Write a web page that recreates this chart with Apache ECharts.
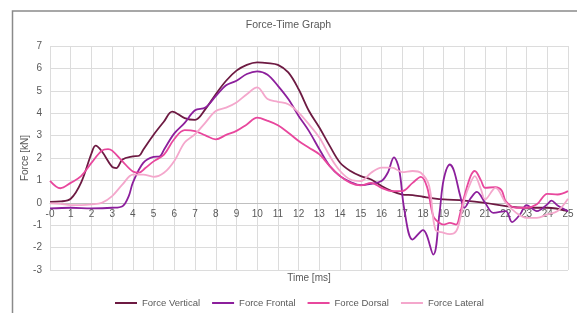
<!DOCTYPE html>
<html>
<head>
<meta charset="utf-8">
<script src="https://cdn.jsdelivr.net/npm/echarts@6/dist/echarts.min.js"></script>
<style>
  html, body { margin: 0; padding: 0; background: #fff; }
  #chart { width: 577px; height: 313px; }
</style>
</head>
<body>
<div id="chart"></div>
<script>
var seriesNames = ['Force Vertical', 'Force Frontal', 'Force Dorsal', 'Force Lateral'];
var colors = ['#6d1a42', '#8c1f9c', '#e8479d', '#f4a7cc'];

var vertTime = [0,0.5,1,1.5,2,2.2,2.5,3,3.2,3.5,4,4.3,4.5,5,5.5,5.9,6.5,7,7.5,8,8.5,9,9.5,10,10.5,11,11.5,12,12.5,13,13.5,14,14.5,15,15.5,16,16.5,17,17.5,18,18.5,19,20,21,22,23,24,25];
var vertForce = [0.04,0.06,0.18,0.9,2.2,2.55,2.3,1.6,1.55,1.93,2.07,2.1,2.37,3.04,3.63,4.07,3.78,3.7,4.18,4.85,5.45,5.9,6.16,6.27,6.24,6.16,5.82,5.07,4.1,3.36,2.54,1.79,1.42,1.19,1.04,0.75,0.52,0.37,0.34,0.27,0.2,0.15,0.1,0,-0.15,-0.22,-0.22,-0.37];

var frontTime = [0,1,2,3,3.5,3.8,4,4.5,5,5.3,5.5,6,6.5,7,7.5,8,8.5,9,9.5,10,10.5,11,11.5,12,12.5,13,13.5,14,14.5,15,15.5,16,16.3,16.6,16.85,17.1,17.5,18,18.5,18.8,19,19.3,19.5,19.8,20,20.3,20.6,21,21.4,22,22.3,22.7,23,23.5,24,24.2,24.5,25];
var frontForce = [-0.25,-0.22,-0.25,-0.22,-0.15,0.3,0.9,1.78,2.05,2.07,2.37,3.1,3.57,4.13,4.25,4.76,5.25,5.45,5.75,5.87,5.72,5.22,4.63,3.88,3.2,2.39,1.64,1.19,0.93,0.79,0.85,0.97,1.34,2.03,1.5,-0.3,-1.64,-1.22,-2.31,-0.45,1.04,1.71,1.42,0.3,-0.22,0.2,0.49,0,-0.45,-0.37,-0.86,-0.5,-0.1,-0.37,-0.07,0.1,-0.12,-0.37];

var dorsTime = [0,0.5,1,1.5,2,2.5,2.8,3,3.5,4,4.3,4.6,5,5.5,6,6.5,7,7.5,8,8.5,9,9.5,10,10.5,11,11.5,12,12.5,13,13.5,14,14.5,15,15.5,16,16.5,17,17.5,17.9,18.2,18.5,18.8,19,19.3,19.6,19.8,20,20.3,20.5,20.8,21,21.5,21.8,22,22.5,23,23.5,24,24.5,25];
var dorsForce = [0.98,0.65,0.89,1.19,1.78,2.33,2.4,2.33,1.85,1.4,1.35,1.55,1.85,2.15,2.85,3.24,3.2,3.01,2.83,3.03,3.21,3.5,3.8,3.66,3.46,3.13,2.76,2.46,2.16,1.64,1.19,0.89,0.78,0.89,0.67,0.52,0.52,0.89,1.16,0.7,-0.6,-0.9,-0.97,-0.9,-0.97,-0.45,0.3,1.19,1.42,1.0,0.67,0.7,0.55,0.07,-0.22,-0.22,-0.07,0.4,0.37,0.52];

var latTime = [0,0.5,1,1.5,2,2.5,3,3.5,4,4.5,5,5.5,6,6.5,7,7.5,8,8.5,9,9.5,10,10.5,11,11.5,12,12.5,13,13.5,14,14.5,15,15.5,16,16.5,17,17.5,17.9,18.3,18.6,19,19.3,19.6,19.8,20,20.3,20.5,20.8,21,21.5,22,22.5,23,23.5,24,24.5,25];
var latForce = [-0.03,-0.05,-0.1,-0.1,-0.07,0,0.3,0.82,1.26,1.26,1.16,1.34,1.87,2.69,3.06,3.58,4.1,4.25,4.48,4.85,5.15,4.63,4.51,4.4,4.03,3.5,2.91,2.09,1.42,1.04,0.97,1.34,1.57,1.57,1.37,1.42,1.34,0.75,-1.19,-1.34,-1.4,-1.27,-0.7,0.15,0.9,1.19,0.6,0.15,0.67,0,-0.45,-0.67,-0.67,-0.52,-0.37,0.18];

function pairs(t, v) {
  var out = [];
  for (var i = 0; i < t.length; i++) out.push([t[i], v[i]]);
  return out;
}

var allTimes = [vertTime, frontTime, dorsTime, latTime];
var allForces = [vertForce, frontForce, dorsForce, latForce];

var series = [];
for (var s = 0; s < seriesNames.length; s++) {
  series.push({
    name: seriesNames[s],
    type: 'line',
    smooth: 0.35,
    showSymbol: false,
    symbol: 'none',
    data: pairs(allTimes[s], allForces[s]),
    lineStyle: { width: 1.8, color: colors[s] },
    itemStyle: { color: colors[s] }
  });
}

var txt = '#595959';
var myChart = echarts.init(document.getElementById('chart'));
myChart.setOption({
  animation: false,
  color: colors,
  textStyle: { fontFamily: 'Liberation Sans' },
  title: {
    text: 'Force-Time Graph',
    left: 'center',
    top: 20,
    padding: 0,
    textStyle: { color: txt, fontSize: 10.5, fontWeight: 'normal', fontFamily: 'Liberation Sans' }
  },
  graphic: [
    // outer chart frame, only the left and top edges show in the picture
    { type: 'polyline', shape: { points: [[12.5, 330], [12.5, 11], [600, 11]] },
      style: { fill: null, stroke: '#8a8a8a', lineWidth: 1.5 }, silent: true },
    { type: 'text', x: 309, y: 278,
      style: { text: 'Time [ms]', fill: txt, font: '10px "Liberation Sans"', align: 'center', verticalAlign: 'middle' } }
  ],
  legend: {
    data: seriesNames,
    left: 110,
    top: 293,
    padding: 5,
    icon: 'rect',
    itemWidth: 22,
    itemHeight: 2,
    itemGap: 12,
    textStyle: { color: txt, fontSize: 9.5, fontFamily: 'Liberation Sans' }
  },
  grid: { left: 50, right: 9, top: 46, bottom: 43, containLabel: false },
  xAxis: {
    type: 'value',
    min: 0,
    max: 25,
    interval: 1,
    position: 'bottom',
    // axis crosses at force = 0 (3 units of 22.4px above the bottom edge)
    offset: -67.2,
    axisLine: { onZero: false, lineStyle: { color: '#bfbfbf', width: 1 } },
    axisTick: { show: false },
    axisLabel: {
      color: txt, fontSize: 10, margin: 6,
      formatter: function (v) { return v === 0 ? '-0' : v; }
    },
    splitLine: { show: true, lineStyle: { color: '#dcdcdc', width: 1 } }
  },
  yAxis: {
    type: 'value',
    min: -3,
    max: 7,
    interval: 1,
    name: 'Force [kN]',
    nameLocation: 'middle',
    nameGap: 20,
    nameMoveOverlap: false,
    nameTextStyle: { color: txt, fontSize: 10 },
    axisLine: { show: false },
    axisTick: { show: false },
    axisLabel: { color: txt, fontSize: 10, margin: 8 },
    splitLine: { show: true, lineStyle: { color: '#dcdcdc', width: 1 } }
  },
  series: series
});
</script>
</body>
</html>
